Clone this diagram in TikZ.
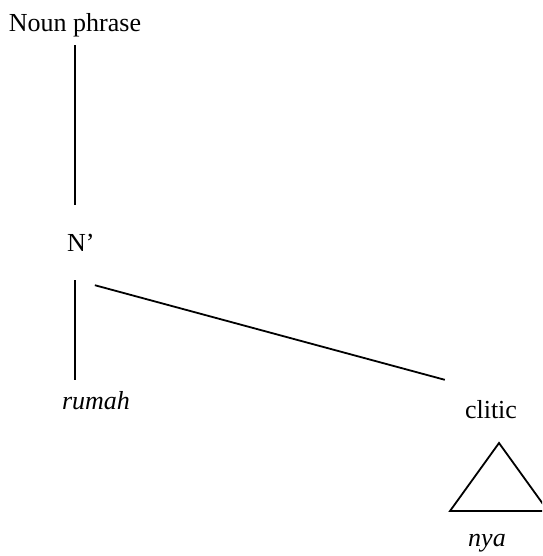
\documentclass[tikz,border=0pt]{standalone}
\usepackage{fontspec}
\setmainfont{Liberation Serif}
\tikzset{
  cat/.style={inner sep=0pt, text height=18pt, text depth=6pt, font=\fontsize{26}{30}\selectfont},
  word/.style={cat, font=\fontsize{26}{30}\selectfont\itshape},
  branch/.style={line width=1.8pt, draw=black}
}

\begin{document}
\begin{tikzpicture}[x=1pt, y=-1pt]

\clip (0,0) rectangle (542,556);
\useasboundingbox (0,0) rectangle (542,556);

\node[cat, anchor=base] (np) at (75,32) {Noun phrase};
\node[cat, anchor=base west] (nbar) at (67,251) {N’};
\node[word, anchor=base] (rumah) at (96,409) {rumah};
\node[cat, anchor=base] (clitic) at (491,418) {clitic};
\node[word, anchor=base] (nya) at (487,546) {nya};

\draw[branch, shorten <=7pt, shorten >=28pt] (np.south) -- (np.south |- nbar.north);
\draw[branch, shorten <=23pt, shorten >=11pt] (np.south |- nbar.south) -- (np.south |- rumah.north);
\draw[branch] ([yshift=-28pt]nbar.south east) -- ([xshift=-20pt, yshift=20pt]clitic.north west);

% roof over the clitic
\draw[branch, line join=miter] (499,443) -- (450,511) -- (548,511) -- cycle;

\end{tikzpicture}
\end{document}
